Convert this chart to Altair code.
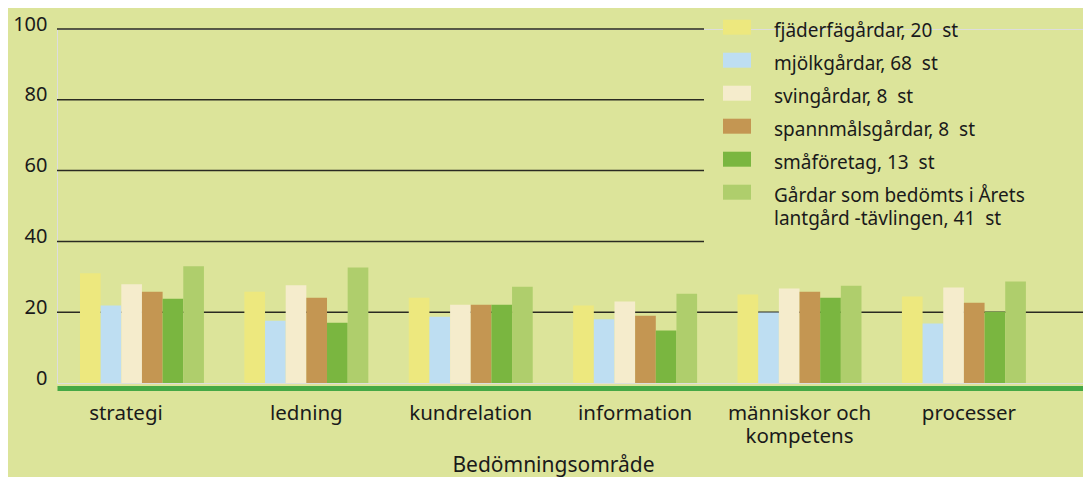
import altair as alt
import pandas as pd

categories = ["strategi", "ledning", "kundrelation", "information",
              "människor och\nkompetens", "processer"]
series = ["fjäderfägårdar, 20\u00a0 st", "mjölkgårdar, 68\u00a0 st", "svingårdar, 8\u00a0 st",
          "spannmålsgårdar, 8\u00a0 st", "småföretag, 13\u00a0 st",
          "Gårdar som bedömts i Årets\nlantgård -tävlingen, 41\u00a0 st"]
colors = ["#ede87e", "#bedef2", "#f5eccc", "#c49652", "#7ab640", "#afce6c"]

v_fjader = [31.0, 25.8, 24.1, 21.9, 25.0, 24.4]
v_mjolk = [21.9, 17.6, 18.7, 18.0, 19.9, 16.8]
v_svin = [27.9, 27.6, 22.1, 23.0, 26.7, 27.0]
v_spannmal = [25.8, 24.1, 22.1, 19.0, 25.8, 22.7]
v_smaforetag = [23.8, 17.0, 22.1, 14.8, 24.1, 20.1]
v_arets = [33.0, 32.6, 27.2, 25.2, 27.5, 28.7]

grid_values = [20, 40, 60, 80, 100]
y_ticks = [0, 20, 40, 60, 80, 100]

all_vals = [v_fjader, v_mjolk, v_svin, v_spannmal, v_smaforetag, v_arets]
rows = []
for s, vals in zip(series, all_vals):
    for c, v in zip(categories, vals):
        rows.append({"omrade": c, "grupp": s, "varde": v})
df = pd.DataFrame(rows)
grid_df = pd.DataFrame({"v": grid_values})

W, H = 1026, 354
BG = "#dce49a"
FONT = "Noto Sans"
TXT = "#1a1a1a"

y_scale = alt.Scale(domain=[0, 100], nice=False)
y_axis = alt.Axis(values=y_ticks, grid=False, domain=False, ticks=False,
                  tickSize=0, labelPadding=10, labelFontSize=20,
                  labelBaseline="alphabetic", labelOffset=1, labelFlush=False,
                  labelColor=TXT, labelFont=FONT)

grid_base = alt.Chart(grid_df).mark_rule(color="#2a2a22", strokeWidth=1.5)
rule_low = grid_base.transform_filter(alt.datum.v == 20).encode(
    y=alt.Y("v:Q", scale=y_scale, axis=y_axis, title=None),
    x=alt.value(0), x2=alt.value(W),
)
rule_high = grid_base.transform_filter(alt.datum.v > 20).encode(
    y=alt.Y("v:Q", scale=y_scale, axis=y_axis, title=None),
    x=alt.value(0), x2=alt.value(647),
)

x_label_offset = {
    "condition": [
        {"test": "datum.value == 'strategi'", "value": -16},
        {"test": "datum.value == 'processer'", "value": 5},
    ],
    "value": 0,
}

bars = alt.Chart(df).mark_bar(stroke=None).encode(
    x=alt.X("omrade:N", sort=categories,
            scale=alt.Scale(paddingInner=0.246, paddingOuter=0.2436, align=0.287,
                            round=False),
            axis=alt.Axis(labelAngle=0, ticks=False, tickSize=0, domain=True,
                          domainColor="#45a845", domainWidth=5, offset=5,
                          labelPadding=31, labelBaseline="alphabetic",
                          labelFontSize=20.5, labelLineHeight=23.5,
                          labelColor=TXT, labelFont=FONT,
                          labelOffset=x_label_offset,
                          labelExpr="split(datum.label, '\\n')",
                          title="Bedömningsområde", titleFontSize=21,
                          titleFontWeight="normal", titleColor=TXT,
                          titleFont=FONT, titleBaseline="alphabetic",
                          titleX=496, titleY=83, titleAnchor="middle")),
    xOffset=alt.XOffset("grupp:N", sort=series,
                        scale=alt.Scale(paddingInner=0, paddingOuter=0, round=False)),
    y=alt.Y("varde:Q", scale=y_scale, axis=y_axis, title=None),
    color=alt.Color("grupp:N", sort=series,
                    scale=alt.Scale(domain=series, range=colors),
                    legend=alt.Legend(
                        title=None, orient="none", legendX=666, legendY=-12,
                        symbolType="M-1,-0.807L1,-0.807L1,0.264L-1,0.264Z",
                        symbolSize=784, symbolStrokeWidth=0,
                        labelFontSize=19, labelFont=FONT, labelColor=TXT,
                        labelOffset=23, labelLimit=400,
                        labelBaseline="middle", rowPadding=9, padding=0,
                        labelExpr="split(datum.label, '\\n')")),
)

chart = alt.layer(rule_low, rule_high, bars).properties(
    width=W, height=H, background=BG,
    padding={"left": 49, "top": 21, "right": 0, "bottom": 94},
    autosize=alt.AutoSizeParams(type="none"),
).configure_view(stroke=None).configure(
    font=FONT, style={"guide-label": {"lineHeight": 23.3}}
)

chart.save("out.html", embed_options={"renderer": "svg", "actions": False})
